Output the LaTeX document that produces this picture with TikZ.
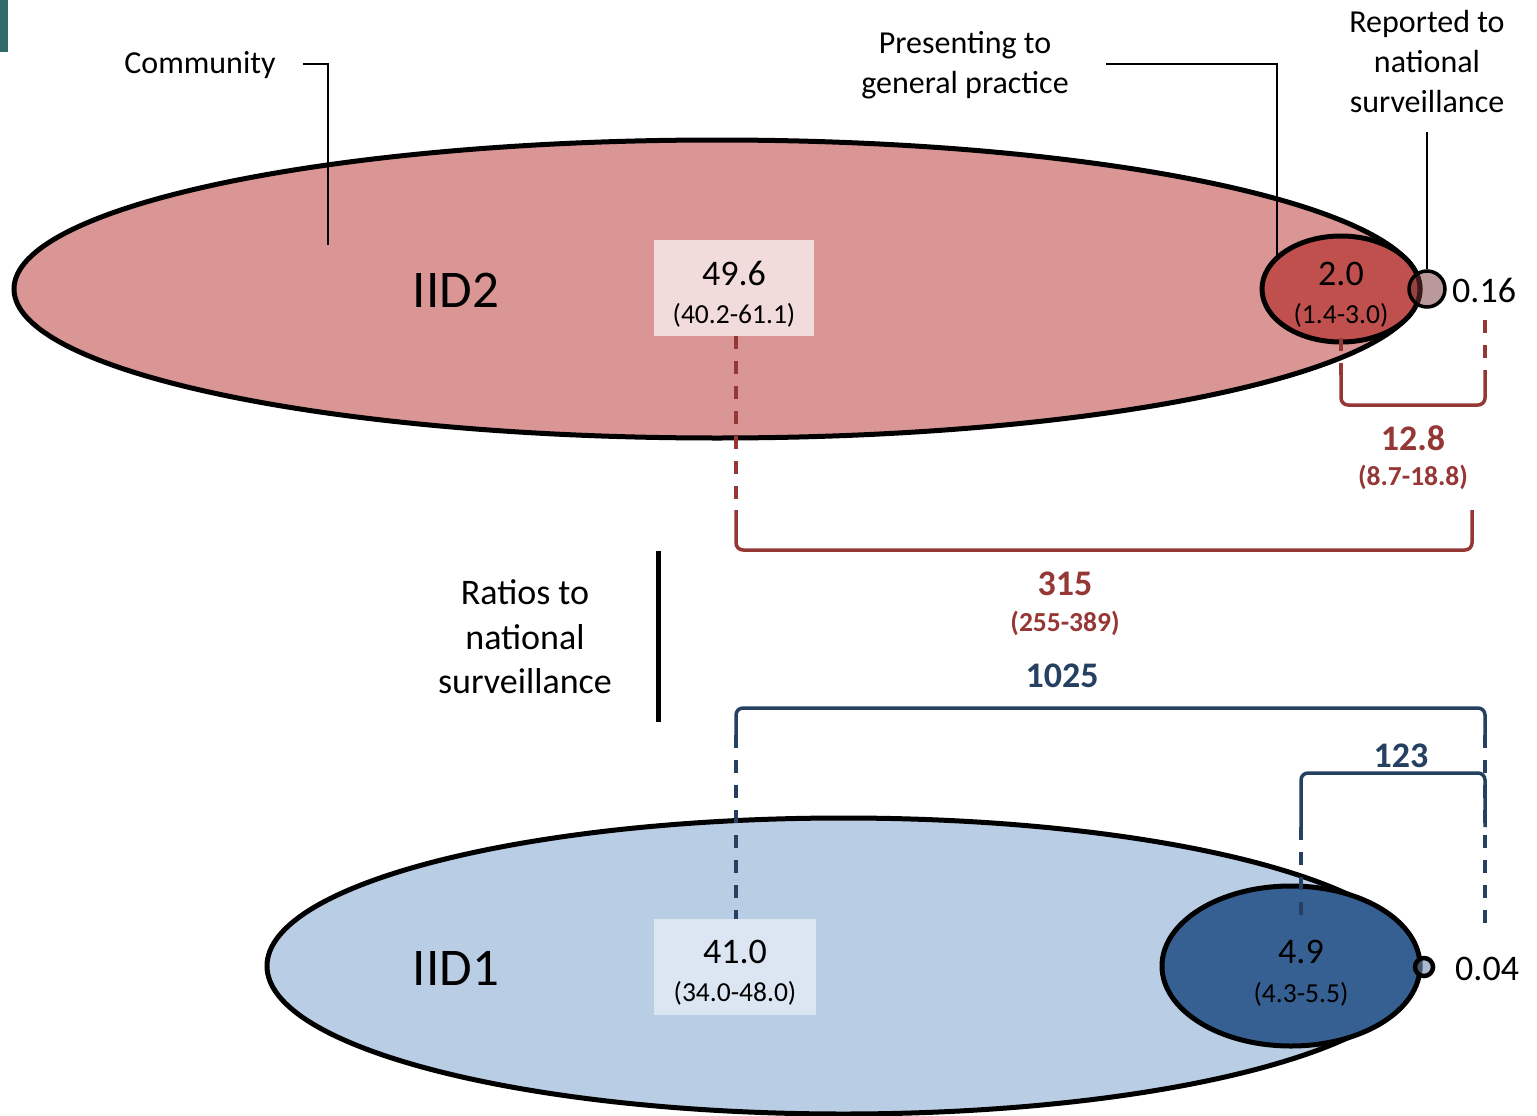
\documentclass[tikz,border=0pt]{standalone}
\usepackage{fontspec}
\setmainfont{Carlito}
\usetikzlibrary{shapes.geometric}
\definecolor{redbig}{HTML}{D99694}
\definecolor{redsmall}{HTML}{C0504D}
\definecolor{redbox}{HTML}{F2DCDB}
\definecolor{redline}{HTML}{953735}
\definecolor{bluebig}{HTML}{B9CDE5}
\definecolor{bluesmall}{HTML}{376092}
\definecolor{bluebox}{HTML}{DCE6F2}
\definecolor{blueline}{HTML}{254061}
\definecolor{tealbar}{HTML}{2F6B6B}
\begin{document}
\begin{tikzpicture}[x=1pt,y=-1pt,
  oval/.style={ellipse, draw=black, line width=5pt, inner sep=0pt},
  numbox/.style={rectangle, inner sep=0pt, minimum width=160pt, minimum height=96pt},
  big/.style={font=\fontsize{36}{43}\selectfont, inner sep=0pt, anchor=base},
  small/.style={font=\fontsize{27.5}{33}\selectfont, inner sep=0pt, anchor=base},
  lab/.style={font=\fontsize{32}{40}\selectfont, inner sep=0pt, align=center},
  iid/.style={font=\fontsize{53}{60}\selectfont, inner sep=0pt, anchor=base},
  rbold/.style={font=\bfseries\fontsize{36}{43}\selectfont, text=redline, inner sep=0pt, anchor=base},
  rboldsm/.style={font=\bfseries\fontsize{27.5}{33}\selectfont, text=redline, inner sep=0pt, anchor=base},
  bbold/.style={font=\bfseries\fontsize{36}{43}\selectfont, text=blueline, inner sep=0pt, anchor=base},
  callout/.style={draw=black, line width=2pt},
  rsolid/.style={draw=redline, line width=3.5pt, rounded corners=7pt},
  rdash/.style={draw=redline, line width=3.5pt, dash pattern=on 13pt off 12pt},
  bsolid/.style={draw=blueline, line width=3.5pt, rounded corners=7pt},
  bdash/.style={draw=blueline, line width=3.5pt, dash pattern=on 13pt off 12pt}]
\useasboundingbox (0,0) rectangle (1537,1116);
\fill[tealbar] (0,0) rectangle (8,52);

% ---------- IID2 ----------
\node[oval, fill=redbig, minimum width=1406pt, minimum height=298pt] (e2) at (717,289) {};
\node[iid] (iid2) at (456,307) {IID2};
\node[numbox, fill=redbox] (b2) at (734,288) {};
\node[big] (v2a) at (734,285) {49.6};
\node[small] (v2b) at (734,323) {(40.2-61.1)};
\node[oval, fill=redsmall, minimum width=158pt, minimum height=106pt] (g2) at (1341,289) {};
\node[big] (g2a) at (1341,285) {2.0};
\node[small] (g2b) at (1341,323) {(1.4-3.0)};
\node[circle, draw=black, line width=3.5pt, fill={rgb,1:red,0.45;green,0.2;blue,0.2}, fill opacity=0.5, minimum size=36pt, inner sep=0pt] (s2) at (1427,289) {};
\node[big, anchor=base west] (s2v) at (1452,302) {0.16};

% ---------- IID1 ----------
\node[oval, fill=bluebig, minimum width=1153pt, minimum height=296pt] (e1) at (843.5,966) {};
\node[iid] (iid1) at (456,985) {IID1};
\node[numbox, fill=bluebox, minimum width=162pt] (b1) at (735,967) {};
\node[big] (v1a) at (735,963) {41.0};
\node[small] (v1b) at (735,1001) {(34.0-48.0)};
\node[oval, fill=bluesmall, minimum width=258pt, minimum height=160pt] (g1) at (1291,966) {};
\node[big] (g1a) at (1301,963) {4.9};
\node[small] (g1b) at (1301,1002) {(4.3-5.5)};
\node[circle, draw=black, line width=4.5pt, fill={rgb,1:red,0.45;green,0.55;blue,0.7}, fill opacity=0.6, minimum size=18pt, inner sep=0pt] (s1) at (1424,967) {};
\node[big, anchor=base west] (s1v) at (1455,980) {0.04};

% ---------- labels ----------
\node[lab, anchor=base] (comm) at (200,74) {Community};
\node[lab] (pres) at (965,65) {Presenting to\\general practice};
\node[lab] (rep) at (1427,62) {Reported to\\national\\surveillance};
\node[lab, font=\fontsize{36}{44.5}\selectfont] (ratio) at (525,637) {Ratios to\\national\\surveillance};

\coordinate (c1) at (328,64);
\coordinate (c2) at (1277,64);
\coordinate (c3) at (1427,132);
\draw[callout] (303,64) -- (c1) -- (328,245);
\draw[callout] (1106,64) -- (c2) -- (1277,258);
\draw[callout] (c3) -- (s2.north);
\draw[black, line width=5pt] (658,551) coordinate (rv1) -- (658,722) coordinate (rv2);

% ---------- IID2 ratios ----------
\coordinate (r315l) at (736,510);
\coordinate (r315r) at (1472,510);
\draw[rdash] (b2.south -| r315l) -- (r315l);
\draw[rsolid] (r315l) -- (736,550) -- (1472,550) -- (r315r);
\node[rbold] (t315) at (1065,595) {315};
\node[rboldsm] (t315b) at (1065,631) {(255-389)};

\coordinate (r128l) at (1341,375);
\coordinate (r128r) at (1485,370);
\draw[rdash] (1341,338) -- (r128l);
\draw[rdash] (1485,320) -- (r128r);
\draw[rsolid] (r128l) -- (1341,405) -- (1485,405) -- (r128r);
\node[rbold] (t128) at (1413,450) {12.8};
\node[rboldsm] (t128b) at (1413,485) {(8.7-18.8)};

% ---------- IID1 ratios ----------
\coordinate (b1025l) at (736,735);
\coordinate (b1025r) at (1485,735);
\draw[bsolid] (b1025l) -- (736,708) -- (1485,708) -- (b1025r);
\draw[bdash] (b1025l) -- (b1.north -| b1025l);
\draw[bdash] (b1025r) -- (1485,925);
\node[bbold] (t1025) at (1062,687) {1025};

\coordinate (b123l) at (1301,827);
\coordinate (b123r) at (1485,827);
\draw[bsolid] (b123l) -- (1301,773) -- (1485,773) -- (b123r);
\draw[bdash] (b123l) -- (1301,918);
\node[bbold] (t123) at (1401,767) {123};
\end{tikzpicture}
\end{document}
